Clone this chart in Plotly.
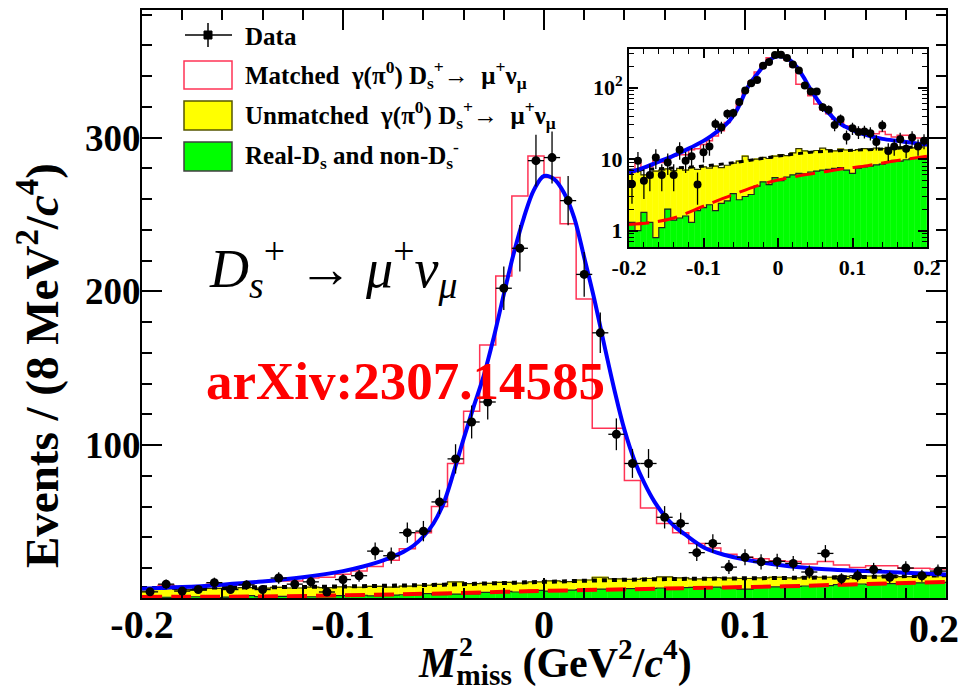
import numpy as np
import plotly.graph_objects as go

# ---------------- data ----------------
n_bins = 50
x_lo, x_hi = -0.2, 0.2
edges = np.round(np.linspace(x_lo, x_hi, n_bins + 1), 4)
centres = (edges[:-1] + edges[1:]) / 2

data_counts = [4.5, 9.5, 5, 6, 10.5, 6, 9, 6, 13.5, 9.5,
               11, 4.4, 12.5, 15, 31, 28, 43, 44, 63, 91,
               115, 128, 202, 228, 285, 287, 259, 211, 173, 107,
               88, 88, 53, 49, 30, 36, 20.6, 27, 24, 24.3,
               23, 17.4, 29.5, 13, 15, 19, 14, 20, 15, 18]

matched_total = [6.5, 8.8, 7.5, 7.8, 9.5, 9.0, 10.0, 11.0, 11.5, 11.5,
                 13.5, 14.0, 16.0, 18.0, 21.0, 25.0, 32.6, 43.0, 60.0, 88.0,
                 122, 165, 210, 262, 288, 274, 244, 195, 111, 111,
                 77, 59, 49, 43, 36, 33, 29, 27, 26, 24.8,
                 24.3, 22.6, 24.3, 22, 20.4, 21.5, 21.5, 19.8, 19.8, 19.4]

bkg_total = [6.5, 6.8, 6.0, 5.5, 6.8, 7.0, 7.3, 6.9, 7.4, 7.0,
             7.6, 7.2, 7.8, 7.5, 8.0, 7.6, 8.2, 8.8, 9.4, 11.0,
             9.8, 10.0, 10.6, 10.2, 11.0, 11.6, 11.2, 12.2, 14.0, 13.0,
             12.6, 13.2, 14.2, 13.6, 13.0, 13.8, 13.4, 13.2, 13.6, 14.0,
             13.6, 14.2, 14.0, 14.6, 13.8, 14.8, 15.0, 14.4, 15.2, 15.6]

green_counts = [1.3, 1.0, 1.8, 1.3, 0.8, 1.1, 2.0, 1.4, 1.5, 1.6,
                1.3, 1.9, 2.1, 2.3, 1.9, 2.4, 2.6, 3.3, 2.7, 3.0,
                3.2, 4.2, 4.8, 4.4, 5.5, 5.0, 5.6, 6.0, 6.3, 6.2,
                6.6, 6.8, 7.0, 7.2, 7.4, 7.6, 7.0, 6.3, 7.5, 7.8,
                8.0, 8.3, 8.5, 9.2, 9.6, 9.4, 9.8, 10.2, 10.4, 10.6]

fit_x = [-0.2, -0.18, -0.16, -0.14, -0.12, -0.10, -0.09, -0.08, -0.07, -0.065,
         -0.06, -0.055, -0.05, -0.045, -0.04, -0.035, -0.03, -0.025, -0.02, -0.015,
         -0.01, -0.005, 0.0, 0.005, 0.01, 0.015, 0.02, 0.025, 0.03, 0.035,
         0.04, 0.045, 0.05, 0.055, 0.06, 0.065, 0.07, 0.08, 0.09, 0.10,
         0.12, 0.14, 0.16, 0.18, 0.2]
fit_y = [6.5, 7.6, 9.2, 11.2, 14.0, 18.0, 21.0, 25.0, 30.5, 34.5,
         40.5, 49.0, 62.0, 82.0, 104.0, 125.0, 145.0, 170.0, 198.0, 225.0,
         248.0, 266.0, 275.0, 273.0, 264.0, 248.0, 222.0, 195.0, 165.0, 136.0,
         110.0, 90.0, 75.0, 63.0, 54.0, 47.0, 42.0, 33.0, 28.5, 25.5,
         21.5, 19.2, 18.0, 17.0, 15.8]

bkgfit_x = [-0.2, -0.15, -0.1, -0.05, 0.0, 0.05, 0.1, 0.15, 0.2]
bkgfit_y = [7.0, 7.4, 8.0, 9.2, 11.0, 12.6, 13.3, 14.0, 15.3]

greenfit_x = [-0.2, -0.17, -0.14, -0.1, -0.06, -0.02, 0.0, 0.03, 0.06, 0.09, 0.12, 0.15, 0.2]
greenfit_y = [1.22, 1.3, 1.5, 2.2, 3.2, 4.5, 5.1, 5.9, 6.6, 7.4, 8.1, 9.2, 11.0]

x_tick_vals = [-0.2, -0.1, 0.0, 0.1, 0.2]
x_tick_text = ["-0.2", "-0.1", "0", "0.1", "0.2"]
y_tick_vals = [100, 200, 300]
y_tick_text = ["100", "200", "300"]
log_tick_vals = [1, 10, 100]
log_tick_text = ["1", "10", "10<sup>2</sup>"]

# ---------------- figure ----------------
W, H = 969, 692
ML, MR, MT, MB = 142, 23, 10, 94
PW, PH = W - ML - MR, H - MT - MB


def px(xp):
    return (xp - ML) / PW


def py(yp):
    return (H - MB - yp) / PH


SERIF = "Liberation Serif"
GREEN = "#00ff00"
YELLOW = "#ffff00"
MATCHED = "#ff3355"
BLUE = "#0000ff"

green_arr = np.array(green_counts)
bkg_arr = np.array(bkg_total)

fig = go.Figure()


def add_set(xa, ya, inset):
    lw = 3 if inset else 4
    fig.add_trace(go.Bar(x=centres, y=green_arr, width=0.008, marker=dict(color=GREEN, line=dict(width=0.4, color=GREEN)),
                         xaxis=xa, yaxis=ya, showlegend=False, hoverinfo="skip"))
    fig.add_trace(go.Bar(x=centres, y=bkg_arr - green_arr, base=green_arr, width=0.008,
                         marker=dict(color=YELLOW, line=dict(width=0.4, color=YELLOW)),
                         xaxis=xa, yaxis=ya, showlegend=False, hoverinfo="skip"))
    fig.add_trace(go.Scatter(x=edges, y=np.append(green_arr, green_arr[-1]), mode="lines",
                             line=dict(shape="hv", color="#222222", width=1.2),
                             xaxis=xa, yaxis=ya, showlegend=False))
    fig.add_trace(go.Scatter(x=edges, y=np.append(bkg_arr, bkg_arr[-1]), mode="lines",
                             line=dict(shape="hv", color="#333300", width=1.2),
                             xaxis=xa, yaxis=ya, showlegend=False))
    fig.add_trace(go.Scatter(x=edges, y=np.append(matched_total, matched_total[-1]), mode="lines",
                             line=dict(shape="hv", color=MATCHED, width=1.5),
                             xaxis=xa, yaxis=ya, showlegend=False))
    fig.add_trace(go.Scatter(x=bkgfit_x, y=bkgfit_y, mode="lines",
                             line=dict(shape="spline", color="black", width=lw, dash="5px,5px"),
                             xaxis=xa, yaxis=ya, showlegend=False))
    fig.add_trace(go.Scatter(x=greenfit_x, y=greenfit_y, mode="lines",
                             line=dict(shape="spline", color="#ff0000", width=lw, dash="20px,9px"),
                             xaxis=xa, yaxis=ya, showlegend=False))
    fig.add_trace(go.Scatter(x=fit_x, y=fit_y, mode="lines",
                             line=dict(shape="spline", color=BLUE, width=4),
                             xaxis=xa, yaxis=ya, showlegend=False))
    fig.add_trace(go.Scatter(x=centres, y=data_counts, mode="markers",
                             marker=dict(color="black", size=8 if inset else 9),
                             error_y=dict(type="data", array=np.sqrt(data_counts), color="black",
                                          thickness=1.3, width=0),
                             error_x=dict(type="constant", value=0.004, color="black", thickness=1.3, width=0),
                             xaxis=xa, yaxis=ya, showlegend=False))


add_set("x", "y", False)
add_set("x2", "y2", True)

axis_common = dict(showline=True, linecolor="black", linewidth=2, mirror="allticks",
                   ticks="inside", tickcolor="black", showgrid=False, zeroline=False,
                   automargin=False)

# the last main x label sits at the canvas edge; it is drawn as an annotation below
main_x_text = x_tick_text[:-1] + [""]

fig.update_layout(
    width=W, height=H,
    margin=dict(l=ML, r=MR, t=MT, b=MB, autoexpand=False),
    paper_bgcolor="white", plot_bgcolor="white",
    barmode="overlay", bargap=0,
    showlegend=False,
    xaxis=dict(domain=[0, 1], range=[x_lo, x_hi], tickvals=x_tick_vals, ticktext=main_x_text,
               ticklen=20, tickwidth=2, ticklabelstandoff=-10,
               tickfont=dict(family=SERIF, size=40, color="black", weight="bold"),
               minor=dict(ticks="inside", ticklen=10, tickwidth=1.5, tickcolor="black", dtick=0.02, tick0=-0.2),
               **axis_common),
    yaxis=dict(domain=[0, 1], range=[0.5, 383], tickvals=y_tick_vals, ticktext=y_tick_text,
               ticklen=20, tickwidth=2, ticklabelstandoff=-8,
               tickfont=dict(family=SERIF, size=37, color="black", weight="bold"),
               minor=dict(ticks="inside", ticklen=10, tickwidth=1.5, tickcolor="black", dtick=20, tick0=0),
               **axis_common),
    xaxis2=dict(domain=[px(629), px(927)], anchor="y2", range=[x_lo, x_hi],
                tickvals=x_tick_vals, ticktext=x_tick_text, ticklen=9, tickwidth=1.5,
                tickfont=dict(family=SERIF, size=22, color="black", weight="bold"),
                minor=dict(ticks="inside", ticklen=5, tickwidth=1, tickcolor="black", dtick=0.02, tick0=-0.2),
                **axis_common),
    yaxis2=dict(domain=[py(247), py(48.7)], anchor="x2", type="log",
                range=[np.log10(0.59), np.log10(350)],
                tickvals=log_tick_vals, ticktext=log_tick_text, ticklen=9, tickwidth=1.5,
                tickfont=dict(family=SERIF, size=22, color="black", weight="bold"),
                minor=dict(ticks="inside", ticklen=5, tickwidth=1, tickcolor="black",
                           tickvals=[0.6, 0.7, 0.8, 0.9, 2, 3, 4, 5, 6, 7, 8, 9,
                                     20, 30, 40, 50, 60, 70, 80, 90, 200, 300]),
                **axis_common),
)

# ---------------- legend (drawn by hand, ROOT style) ----------------
shapes = []
shapes.append(dict(type="line", xref="paper", yref="paper", x0=px(185), x1=px(232), y0=py(35), y1=py(35),
                   line=dict(color="black", width=1.5)))
shapes.append(dict(type="line", xref="paper", yref="paper", x0=px(208), x1=px(208), y0=py(23), y1=py(47),
                   line=dict(color="black", width=1.5)))
shapes.append(dict(type="rect", xref="paper", yref="paper", x0=px(204), x1=px(212), y0=py(31), y1=py(39),
                   fillcolor="black", line=dict(color="black", width=1)))
shapes.append(dict(type="rect", xref="paper", yref="paper", x0=px(184), x1=px(232), y0=py(61), y1=py(89),
                   fillcolor="white", line=dict(color=MATCHED, width=1.5)))
shapes.append(dict(type="rect", xref="paper", yref="paper", x0=px(184), x1=px(232), y0=py(101), y1=py(130),
                   fillcolor=YELLOW, line=dict(color="#555500", width=1.5)))
shapes.append(dict(type="rect", xref="paper", yref="paper", x0=px(184), x1=px(232), y0=py(142), y1=py(171),
                   fillcolor=GREEN, line=dict(color="#404040", width=1.5)))
fig.update_layout(shapes=shapes)

leg_font = dict(family=SERIF, size=25, color="black", weight="bold")
legend_entries = [
    ("Data", 36),
    ("Matched  γ(π<sup>0</sup>) D<sub>s</sub><sup>+</sup>→  μ<sup>+</sup>ν<sub>μ</sub>", 75),
    ("Unmatched  γ(π<sup>0</sup>) D<sub>s</sub><sup>+</sup>→  μ<sup>+</sup>ν<sub>μ</sub>", 115),
    ("Real-D<sub>s</sub> and non-D<sub>s</sub><sup>-</sup>", 155),
]
annotations = []
for txt, yy in legend_entries:
    annotations.append(dict(text=txt, xref="paper", yref="paper", x=px(243), y=py(yy),
                            xanchor="left", yanchor="middle", showarrow=False, font=leg_font))

# last main x tick label (kept inside the canvas, as in the reference)
annotations.append(dict(text=x_tick_text[-1], xref="x", yref="paper", x=x_tick_vals[-1], y=py(628),
                        xanchor="center", yanchor="middle", xshift=-12, showarrow=False,
                        font=dict(family=SERIF, size=40, color="black", weight="bold")))

annotations.append(dict(text="<i>D</i><sub><i>s</i></sub><sup>+</sup> → <i>μ</i><sup>+</sup><i>ν</i><sub><i>μ</i></sub>",
                        xref="paper", yref="paper", x=px(207), y=py(268), xanchor="left", yanchor="middle",
                        showarrow=False, font=dict(family=SERIF, size=54, color="black")))
annotations.append(dict(text="arXiv:2307.14585", xref="paper", yref="paper", x=px(204), y=py(381),
                        xanchor="left", yanchor="middle", showarrow=False,
                        font=dict(family=SERIF, size=53, color="#ff0000", weight="bold")))
annotations.append(dict(text="Events / (8 MeV<sup>2</sup>/<i>c</i><sup>4</sup>)", xref="paper", yref="paper",
                        x=px(38), y=py(366), xanchor="center", yanchor="middle", textangle=-90,
                        showarrow=False, font=dict(family=SERIF, size=47, color="black", weight="bold")))
annotations.append(dict(text="<i>M</i><sub>miss</sub> (GeV<sup>2</sup>/<i>c</i><sup>4</sup>)",
                        xref="paper", yref="paper", x=px(416), y=py(662), xanchor="left", yanchor="middle",
                        showarrow=False, font=dict(family=SERIF, size=42, color="black", weight="bold")))
annotations.append(dict(text="2", xref="paper", yref="paper", x=px(457), y=py(646), xanchor="left",
                        yanchor="middle", showarrow=False,
                        font=dict(family=SERIF, size=28, color="black", weight="bold")))
fig.update_layout(annotations=annotations)

fig.write_html("out.html")
